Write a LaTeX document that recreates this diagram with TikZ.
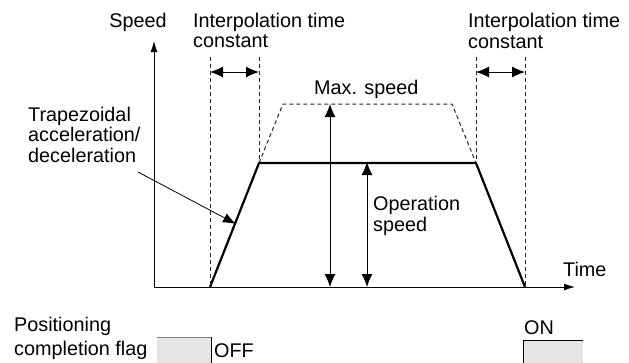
\documentclass[tikz,border=0pt]{standalone}
\usepackage{fontspec}
\setmainfont{Liberation Sans}
\usetikzlibrary{arrows.meta}
\begin{document}
\begin{tikzpicture}[x=1pt,y=-1pt,
  lbl/.style={inner sep=0pt, anchor=base west, align=left, font=\fontsize{19.8}{20.5}\selectfont},
  axis/.style={line width=1pt, -{Latex[length=11pt,width=7pt]}},
  curve/.style={line width=2.2pt, line join=miter},
  guide/.style={line width=1pt, dash pattern=on 4pt off 3pt, black!85},
  dimarrow/.style={line width=1pt, {Latex[length=13pt,width=11pt]}-{Latex[length=13pt,width=11pt]}},
  pointer/.style={line width=0.8pt, -{Latex[length=13pt,width=10pt]}},
  flagbox/.style={fill=black!10, draw=none}
]
\useasboundingbox (0,0) rectangle (629,362);

% axes
\coordinate (O) at (154,287);
\coordinate (ytop) at (154,41);
\coordinate (xend) at (575,287);
\draw[axis] (O) -- (ytop);
\draw[axis] (O) -- (xend);

% trapezoid
\coordinate (a) at (210,287);
\coordinate (b) at (259,163);
\coordinate (c) at (476,163);
\coordinate (d) at (525,287);
\coordinate (bm) at (283,104);
\coordinate (cm) at (452,104);
\draw[guide] (b) -- (bm) -- (cm) -- (c);
\draw[curve] (a) -- (b) -- (c) -- (d);

% guide verticals
\coordinate (ga) at (210,57);
\coordinate (gb) at (259,57);
\coordinate (gc) at (476,57);
\coordinate (gd) at (525,57);
\draw[guide] (ga) -- (a);
\draw[guide] (gb) -- (b);
\draw[guide] (gc) -- (c);
\draw[guide] (gd) -- (d);

% interpolation time constant arrows
\coordinate (ia1) at (210,72);
\coordinate (ia2) at (259,72);
\coordinate (ib1) at (476,72);
\coordinate (ib2) at (525,72);
\draw[dimarrow] (ia1) -- (ia2);
\draw[dimarrow] (ib1) -- (ib2);

% speed arrows
\coordinate (m1) at (330,287);
\coordinate (m2) at (330,104);
\coordinate (s1) at (367,287);
\coordinate (s2) at (367,162);
\draw[dimarrow] (m1) -- (m2);
\draw[dimarrow] (s1) -- (s2);

% labels (multi-line nodes: base = last line baseline)
\node[lbl, anchor=base] (speed) at (138,27.5) {Speed};
\node[lbl] (itl) at (193,47.5) {Interpolation time\\constant};
\node[lbl] (itr) at (468,48) {Interpolation time\\constant};
\node[lbl] (maxs) at (314,94) {Max. speed};
\node[lbl] (trap) at (28,162) {Trapezoidal\\acceleration/\\deceleration};
\node[lbl] (ops) at (373,231) {Operation\\speed};
\node[lbl] (time) at (563,276) {Time};
\node[lbl] (pos) at (14,355) {Positioning\\[3pt]completion flag};
\node[lbl] (off) at (214,357) {OFF};
\node[lbl] (on) at (524,334) {ON};

% pointer
\coordinate (pt) at (138,172);
\coordinate (ph) at (236,224);
\draw[pointer] (pt) -- (ph);

% flag boxes
\fill[black!10] (157,337) rectangle (211,366);
\draw[black!50, line width=0.8pt] (157,337) -- (211,337);
\draw[black, line width=0.9pt] (211,337) -- (211,366);
\fill[black!10] (523,340) rectangle (583,366);
\draw[black, line width=0.9pt] (523,366) -- (523,340) -- (583,340);
\end{tikzpicture}
\end{document}
